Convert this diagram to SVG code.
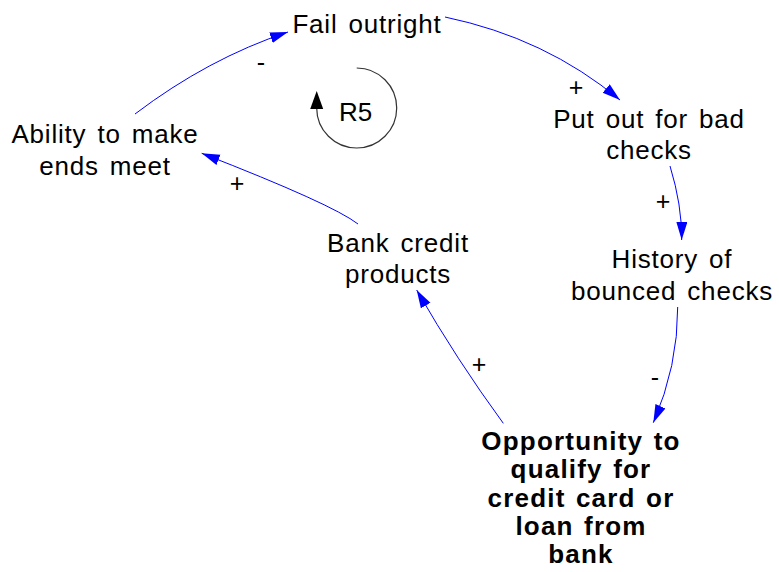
<svg xmlns="http://www.w3.org/2000/svg" width="779" height="572" viewBox="0 0 779 572">
<style>
  .lbl{font-family:"Liberation Sans",Arial,sans-serif;font-size:26px;fill:#000;text-anchor:middle;letter-spacing:0.8px;word-spacing:3px}
  .bold{font-weight:bold;letter-spacing:1.2px;word-spacing:2px}
  .sign{font-family:"Liberation Sans",Arial,sans-serif;font-size:25px;fill:#000;text-anchor:middle}
  .link{fill:none;stroke:#0000ff;stroke-width:1;marker-end:url(#ah)}
  .loop{fill:none;stroke:#333;stroke-width:1.2;marker-end:url(#lh)}
</style>
<defs>
  <marker id="ah" markerUnits="userSpaceOnUse" markerWidth="20" markerHeight="12" refX="18" refY="5.5" orient="auto">
    <path d="M0,0 L18,5.5 L0,11 z" fill="#0000ff"/>
  </marker>
  <marker id="lh" markerUnits="userSpaceOnUse" markerWidth="20" markerHeight="14" refX="1" refY="6.5" orient="auto">
    <path d="M0,0 L18,6.5 L0,13 z" fill="#000"/>
  </marker>
</defs>
<rect width="779" height="572" fill="#fff"/>
<g id="connectors">
  <path class="link" d="M135,114 Q208,58.6 288,32"/>
  <path class="link" d="M445,17 Q545.7,38 620,100"/>
  <path class="link" d="M670,166 Q682,205 681.7,240"/>
  <path class="link" d="M677.7,307 Q678,366 653.3,422.7"/>
  <path class="link" d="M503.3,423.3 Q456.8,359.8 416.7,290"/>
  <path class="link" d="M358,224 Q332.5,204.2 201.7,153.3"/>
  <g class="signs">
    <text class="sign" x="261" y="71">-</text>
    <text class="sign" x="576" y="96">+</text>
    <text class="sign" x="663" y="210">+</text>
    <text class="sign" x="237" y="192">+</text>
    <text class="sign" x="479" y="373">+</text>
    <text class="sign" x="655" y="386">-</text>
  </g>
</g>
<g id="loop-R5">
  <path class="loop" d="M356.7,68 A40,40 0 1 1 316.7,108"/>
  <text class="lbl" x="355.5" y="121" style="letter-spacing:0">R5</text>
</g>
<g id="fail-outright">
  <text class="lbl" x="367" y="33">Fail outright</text>
</g>
<g id="put-out">
  <text class="lbl" x="649" y="128">Put out for bad</text>
  <text class="lbl" x="649" y="159">checks</text>
</g>
<g id="history">
  <text class="lbl" x="672" y="268">History of</text>
  <text class="lbl" x="672" y="300">bounced checks</text>
</g>
<g id="opportunity">
  <text class="lbl bold" x="581" y="450">Opportunity to</text>
  <text class="lbl bold" x="581" y="478">qualify for</text>
  <text class="lbl bold" x="581" y="507">credit card or</text>
  <text class="lbl bold" x="581" y="535">loan from</text>
  <text class="lbl bold" x="581" y="563">bank</text>
</g>
<g id="bank-credit">
  <text class="lbl" x="398" y="252">Bank credit</text>
  <text class="lbl" x="398" y="283">products</text>
</g>
<g id="ability">
  <text class="lbl" x="105" y="143">Ability to make</text>
  <text class="lbl" x="105" y="175">ends meet</text>
</g>
</svg>
